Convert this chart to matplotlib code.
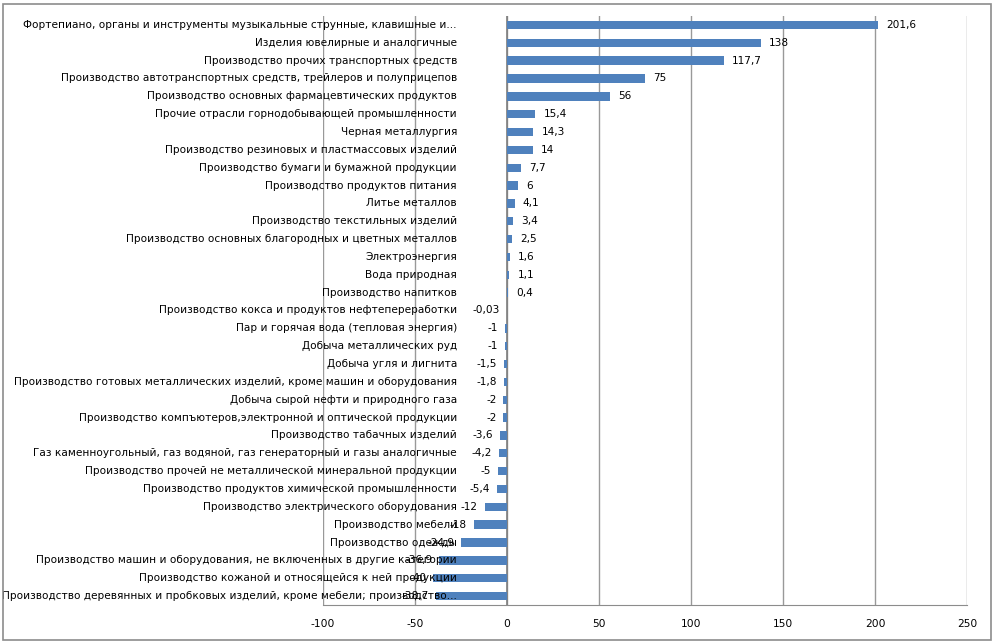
import matplotlib
matplotlib.use('Agg')
import matplotlib.pyplot as plt
from matplotlib.patches import Rectangle

categories = [
    "Фортепиано, органы и инструменты музыкальные струнные, клавишные и...",
    "Изделия ювелирные и аналогичные",
    "Производство прочих транспортных средств",
    "Производство автотранспортных средств, трейлеров и полуприцепов",
    "Производство основных фармацевтических продуктов",
    "Прочие отрасли горнодобывающей промышленности",
    "Черная металлургия",
    "Производство резиновых и пластмассовых изделий",
    "Производство бумаги и бумажной продукции",
    "Производство продуктов питания",
    "Литье металлов",
    "Производство текстильных изделий",
    "Производство основных благородных и цветных металлов",
    "Электроэнергия",
    "Вода природная",
    "Производство напитков",
    "Производство кокса и продуктов нефтепереработки",
    "Пар и горячая вода (тепловая энергия)",
    "Добыча металлических руд",
    "Добыча угля и лигнита",
    "Производство готовых металлических изделий, кроме машин и оборудования",
    "Добыча сырой нефти и природного газа",
    "Производство компъютеров,электронной и оптической продукции",
    "Производство табачных изделий",
    "Газ каменноугольный, газ водяной, газ генераторный и газы аналогичные",
    "Производство прочей не металлической минеральной продукции",
    "Производство продуктов химической промышленности",
    "Производство электрического оборудования",
    "Производство мебели",
    "Производство одежды",
    "Производство машин и оборудования, не включенных в другие категории",
    "Производство кожаной и относящейся к ней продукции",
    "Производство деревянных и пробковых изделий, кроме мебели; производство...",
]
values = [201.6, 138, 117.7, 75, 56, 15.4, 14.3, 14, 7.7, 6, 4.1, 3.4, 2.5,
          1.6, 1.1, 0.4, -0.03, -1, -1, -1.5, -1.8, -2, -2, -3.6, -4.2, -5,
          -5.4, -12, -18, -24.9, -36.9, -40, -38.7]
xticks = [-100, -50, 0, 50, 100, 150, 200, 250]

W, H = 995, 643
fig = plt.figure(figsize=(W / 100, H / 100), dpi=100)
fig.patches.append(Rectangle((3 / W, 3 / H), 988 / W, 636 / H, transform=fig.transFigure,
                             fill=False, edgecolor='#8c8c8c', linewidth=1.2))
ax = fig.add_axes([323 / W, 38 / H, 644 / W, 589 / H])

y = list(range(len(values)))
ax.barh(y, values, height=0.47, color='#4f81bd', zorder=3)

ax.set_xlim(-100, 250)
ax.set_ylim(len(values) - 0.5, -0.5)
ax.set_xticks(xticks)
ax.set_xticklabels([str(t) for t in xticks], fontsize=7.7)
ax.set_yticks([])
ax.tick_params(axis='x', length=0, pad=10)
ax.grid(axis='x', color='#999999', linewidth=1)
ax.set_axisbelow(True)
for s in ['top', 'right', 'left']:
    ax.spines[s].set_visible(False)
ax.spines['bottom'].set_color('#8c8c8c')
ax.axvline(0, color='#7f7f7f', linewidth=1.2, zorder=2)

fs = 7.6
for i, (cat, v) in enumerate(zip(categories, values)):
    ax.annotate(cat, xy=(0, i), xytext=(-36, 0), textcoords='offset points',
                ha='right', va='center', fontsize=fs, annotation_clip=False, zorder=4)
    txt = ('%g' % v).replace('.', ',')
    if v >= 0:
        ax.annotate(txt, xy=(v, i), xytext=(6, 0), textcoords='offset points',
                    ha='left', va='center', fontsize=fs, zorder=4)
    else:
        ax.annotate(txt, xy=(v, i), xytext=(-5, 0), textcoords='offset points',
                    ha='right', va='center', fontsize=fs, zorder=4)

fig.savefig('out.png', dpi=100)
